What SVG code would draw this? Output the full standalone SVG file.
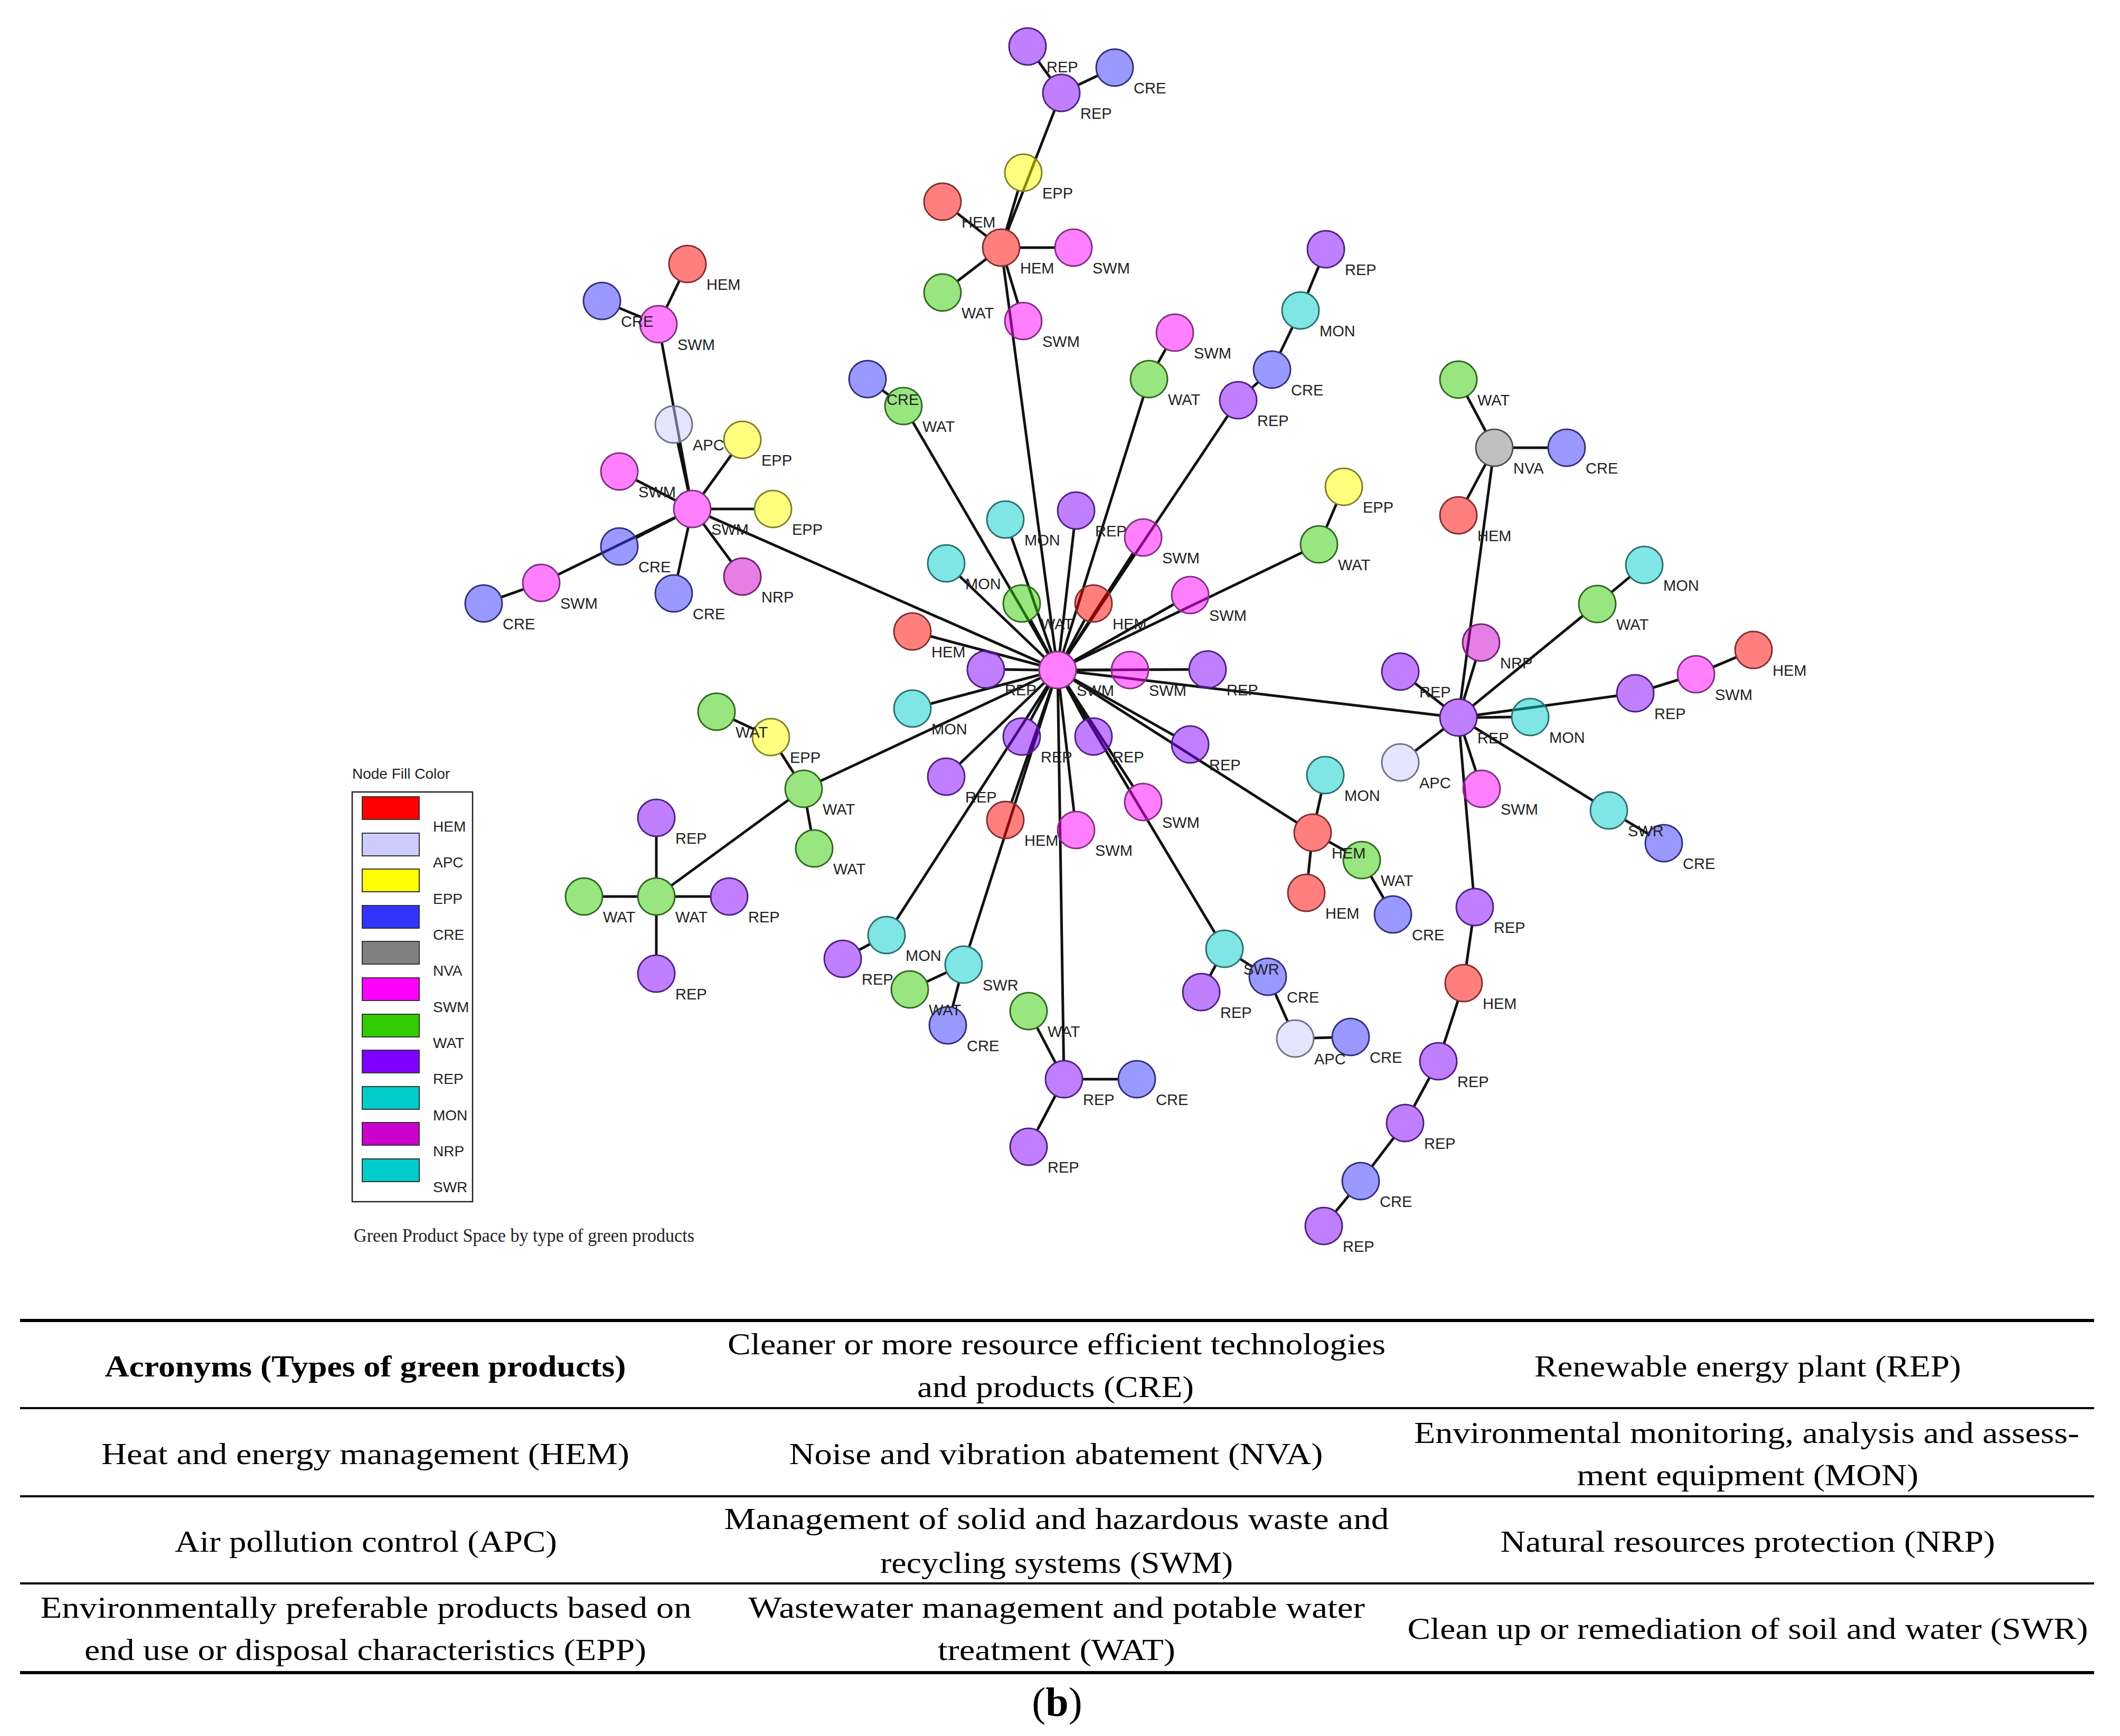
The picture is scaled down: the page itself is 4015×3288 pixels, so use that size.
<svg xmlns="http://www.w3.org/2000/svg" width="4015" height="3288" viewBox="0 0 4015 3288">
<style>
.node circle{stroke-width:3;fill-opacity:0.5}
.node text{font-family:"Liberation Sans",Arial,sans-serif;font-size:29px;fill:#222}
.HEM{fill:#ff0000;stroke:#803030}
.APC{fill:#ccccff;stroke:#707088}
.EPP{fill:#ffff00;stroke:#80802a}
.CRE{fill:#3333ff;stroke:#30307a}
.NVA{fill:#808080;stroke:#505050}
.SWM{fill:#ff00ff;stroke:#803080}
.WAT{fill:#33cc00;stroke:#2f6a20}
.REP{fill:#8000ff;stroke:#502080}
.MON{fill:#00cccc;stroke:#2a7070}
.NRP{fill:#cc00cc;stroke:#702070}
.SWR{fill:#00cccc;stroke:#2a7070}
#edges line{stroke:#111;stroke-width:5}
.leg text{font-family:"Liberation Sans",Arial,sans-serif;font-size:28px;fill:#222}
.sw{stroke:#333;stroke-width:2}
.tbl text{font-family:"Liberation Serif","Times New Roman",serif;font-size:58px;fill:#000;text-anchor:middle}
.rule{fill:#000}
</style>
<rect width="4015" height="3288" fill="#fff"/>
<g id="edges">
<line x1="1966.6" y1="116.3" x2="1989.4" y2="147.7"/>
<line x1="2041.6" y1="161" x2="2079.4" y2="143"/>
<line x1="1997.3" y1="208.6" x2="1908.7" y2="436.4"/>
<line x1="1928.1" y1="360.6" x2="1905.9" y2="435.4"/>
<line x1="1868.4" y1="447.4" x2="1812.6" y2="403.6"/>
<line x1="1931" y1="469" x2="1998" y2="469"/>
<line x1="1868.2" y1="490.3" x2="1812.8" y2="532.7"/>
<line x1="1906.1" y1="502.5" x2="1927.9" y2="574.5"/>
<line x1="1900.6" y1="503.7" x2="1998.4" y2="1234.3"/>
<line x1="1262.2" y1="582.5" x2="1286.8" y2="531.5"/>
<line x1="1214.6" y1="600.7" x2="1172.4" y2="583.3"/>
<line x1="1253.3" y1="648.4" x2="1304.7" y2="929.6"/>
<line x1="1283.5" y1="838.2" x2="1303.5" y2="929.8"/>
<line x1="1331.6" y1="935.7" x2="1385.4" y2="861.3"/>
<line x1="1279.9" y1="948" x2="1204.1" y2="909"/>
<line x1="1346" y1="964" x2="1429" y2="964"/>
<line x1="1279.9" y1="980" x2="1204.1" y2="1019"/>
<line x1="1279.6" y1="979.4" x2="1056.4" y2="1088.6"/>
<line x1="992.1" y1="1115.8" x2="948.9" y2="1131.2"/>
<line x1="1303.5" y1="998.2" x2="1283.5" y2="1089.8"/>
<line x1="1331.9" y1="992.1" x2="1385.1" y2="1063.9"/>
<line x1="1343" y1="978.1" x2="1971" y2="1254.9"/>
<line x1="1671" y1="739" x2="1683" y2="748"/>
<line x1="1728.7" y1="799.2" x2="1985.3" y2="1238.8"/>
<line x1="2208" y1="660.6" x2="2193" y2="687.4"/>
<line x1="2165.5" y1="751.4" x2="2013.5" y2="1235.6"/>
<line x1="2497.6" y1="504.4" x2="2476.4" y2="555.6"/>
<line x1="2447.8" y1="619.5" x2="2424.2" y2="668.5"/>
<line x1="2383.1" y1="723.5" x2="2370.9" y2="734.5"/>
<line x1="2325.5" y1="787.1" x2="2022.5" y2="1239.9"/>
<line x1="1915.5" y1="1017.1" x2="1991.5" y2="1235.9"/>
<line x1="2034" y1="1001.8" x2="2007" y2="1234.2"/>
<line x1="2146" y1="1047.4" x2="2022" y2="1239.6"/>
<line x1="1817.3" y1="1091.2" x2="1977.7" y2="1244.8"/>
<line x1="1951.6" y1="1173.8" x2="1986.4" y2="1238.2"/>
<line x1="2054.4" y1="1173.8" x2="2019.6" y2="1238.2"/>
<line x1="2223.5" y1="1144.2" x2="2033.5" y2="1251.8"/>
<line x1="2531.1" y1="954.1" x2="2511.9" y2="998.9"/>
<line x1="2466.5" y1="1046.2" x2="2034.5" y2="1253.8"/>
<line x1="1761.8" y1="1205" x2="1969.2" y2="1260"/>
<line x1="1902" y1="1268" x2="1968" y2="1269"/>
<line x1="2105" y1="1269" x2="2038" y2="1269"/>
<line x1="2252" y1="1268" x2="2038" y2="1269"/>
<line x1="1761.8" y1="1333" x2="1969.2" y2="1278"/>
<line x1="1951.6" y1="1364.2" x2="1986.4" y2="1299.8"/>
<line x1="2054.4" y1="1364.2" x2="2019.6" y2="1299.8"/>
<line x1="2223.5" y1="1392.9" x2="2033.5" y2="1286.1"/>
<line x1="1817.3" y1="1446.8" x2="1977.7" y2="1293.2"/>
<line x1="1915.5" y1="1520" x2="1991.5" y2="1302"/>
<line x1="2034" y1="1537.2" x2="2007" y2="1303.8"/>
<line x1="2146" y1="1489.6" x2="2022" y2="1298.4"/>
<line x1="2037.8" y1="1273.1" x2="2727.2" y2="1354.9"/>
<line x1="2032.5" y1="1287.8" x2="2456.5" y2="1558.2"/>
<line x1="2021" y1="1299" x2="2301" y2="1767"/>
<line x1="1984" y1="1298.4" x2="1698" y2="1741.6"/>
<line x1="1992.4" y1="1302.3" x2="1835.6" y2="1793.7"/>
<line x1="2003.5" y1="1304" x2="2014.5" y2="2009"/>
<line x1="1971.3" y1="1283.8" x2="1553.7" y2="1479.2"/>
<line x1="2825.4" y1="882.7" x2="2766.6" y2="1324.3"/>
<line x1="2813.7" y1="817" x2="2778.3" y2="750"/>
<line x1="2865" y1="848" x2="2932" y2="848"/>
<line x1="2813.6" y1="878.9" x2="2778.4" y2="945.1"/>
<line x1="2794.9" y1="1250.5" x2="2772.1" y2="1325.5"/>
<line x1="2679.5" y1="1293.7" x2="2734.5" y2="1337.3"/>
<line x1="2997.9" y1="1166.2" x2="2789.1" y2="1336.8"/>
<line x1="3051.9" y1="1121.6" x2="3087.1" y2="1092.4"/>
<line x1="2797" y1="1359" x2="2863" y2="1358"/>
<line x1="2796.7" y1="1354.2" x2="3062.3" y2="1317.8"/>
<line x1="3130.4" y1="1302.5" x2="3178.6" y2="1287.5"/>
<line x1="3244.2" y1="1263.4" x2="3288.8" y2="1244.6"/>
<line x1="2734.3" y1="1380.4" x2="2679.7" y2="1422.6"/>
<line x1="2772.8" y1="1392.3" x2="2795.2" y2="1460.7"/>
<line x1="2791.8" y1="1377.4" x2="3017.2" y2="1516.6"/>
<line x1="3077.1" y1="1552.9" x2="3120.9" y2="1579.1"/>
<line x1="2765" y1="1393.9" x2="2790" y2="1683.1"/>
<line x1="2787.9" y1="1752.6" x2="2777.1" y2="1827.4"/>
<line x1="2761.2" y1="1895.3" x2="2734.8" y2="1976.7"/>
<line x1="2707.4" y1="2040.8" x2="2677.6" y2="2096.2"/>
<line x1="2639.8" y1="2154.8" x2="2598.2" y2="2209.2"/>
<line x1="2554.7" y1="2264" x2="2529.3" y2="2295"/>
<line x1="2493.5" y1="1542.8" x2="2502.5" y2="1502.2"/>
<line x1="2482.3" y1="1611.8" x2="2477.7" y2="1656.2"/>
<line x1="2516.5" y1="1594.1" x2="2548.5" y2="1611.9"/>
<line x1="2596.4" y1="1659.4" x2="2620.6" y2="1701.6"/>
<line x1="2302.5" y1="1827.8" x2="2291.5" y2="1848.2"/>
<line x1="2348.4" y1="1816" x2="2371.6" y2="1831"/>
<line x1="2415.2" y1="1882" x2="2438.8" y2="1935"/>
<line x1="2488" y1="1966" x2="2523" y2="1965"/>
<line x1="1388.7" y1="1362.8" x2="1428.3" y2="1381.2"/>
<line x1="1478.7" y1="1425.6" x2="1503.3" y2="1464.4"/>
<line x1="1528.1" y1="1528.5" x2="1535.9" y2="1572.5"/>
<line x1="1493.7" y1="1514.7" x2="1271.3" y2="1677.3"/>
<line x1="1243" y1="1663" x2="1243" y2="1584"/>
<line x1="1208" y1="1698" x2="1141" y2="1698"/>
<line x1="1278" y1="1698" x2="1346" y2="1698"/>
<line x1="1243" y1="1733" x2="1243" y2="1809"/>
<line x1="1648.2" y1="1787.7" x2="1626.8" y2="1799.3"/>
<line x1="1793.2" y1="1841.6" x2="1754.8" y2="1859.4"/>
<line x1="1816.2" y1="1860.9" x2="1803.8" y2="1908.1"/>
<line x1="1964.1" y1="1946.1" x2="1998.9" y2="2012.9"/>
<line x1="2050" y1="2044" x2="2118" y2="2044"/>
<line x1="1998.8" y1="2075" x2="1964.2" y2="2141"/>
</g>
<g id="nodes">
<g id="n1" class="node"><circle class="REP" cx="1946" cy="88" r="35"/><text x="1982" y="137">REP</text></g>
<g id="n3" class="node"><circle class="CRE" cx="2111" cy="128" r="35"/><text x="2147" y="177">CRE</text></g>
<g id="n2" class="node"><circle class="REP" cx="2010" cy="176" r="35"/><text x="2046" y="225">REP</text></g>
<g id="n4" class="node"><circle class="EPP" cx="1938" cy="327" r="35"/><text x="1974" y="376">EPP</text></g>
<g id="n6" class="node"><circle class="HEM" cx="1896" cy="469" r="35"/><text x="1932" y="518">HEM</text></g>
<g id="n5" class="node"><circle class="HEM" cx="1785" cy="382" r="35"/><text x="1821" y="431">HEM</text></g>
<g id="n7" class="node"><circle class="SWM" cx="2033" cy="469" r="35"/><text x="2069" y="518">SWM</text></g>
<g id="n8" class="node"><circle class="WAT" cx="1785" cy="554" r="35"/><text x="1821" y="603">WAT</text></g>
<g id="n9" class="node"><circle class="SWM" cx="1938" cy="608" r="35"/><text x="1974" y="657">SWM</text></g>
<g id="n10" class="node"><circle class="HEM" cx="1302" cy="500" r="35"/><text x="1338" y="549">HEM</text></g>
<g id="n12" class="node"><circle class="SWM" cx="1247" cy="614" r="35"/><text x="1283" y="663">SWM</text></g>
<g id="n11" class="node"><circle class="CRE" cx="1140" cy="570" r="35"/><text x="1176" y="619">CRE</text></g>
<g id="n14" class="node"><circle class="EPP" cx="1406" cy="833" r="35"/><text x="1442" y="882">EPP</text></g>
<g id="n13" class="node"><circle class="APC" cx="1276" cy="804" r="35"/><text x="1312" y="853">APC</text></g>
<g id="n16" class="node"><circle class="SWM" cx="1311" cy="964" r="35"/><text x="1347" y="1013">SWM</text></g>
<g id="n15" class="node"><circle class="SWM" cx="1173" cy="893" r="35"/><text x="1209" y="942">SWM</text></g>
<g id="n17" class="node"><circle class="EPP" cx="1464" cy="964" r="35"/><text x="1500" y="1013">EPP</text></g>
<g id="n18" class="node"><circle class="CRE" cx="1173" cy="1035" r="35"/><text x="1209" y="1084">CRE</text></g>
<g id="n19" class="node"><circle class="SWM" cx="1025" cy="1104" r="35"/><text x="1061" y="1153">SWM</text></g>
<g id="n20" class="node"><circle class="CRE" cx="916" cy="1143" r="35"/><text x="952" y="1192">CRE</text></g>
<g id="n21" class="node"><circle class="CRE" cx="1276" cy="1124" r="35"/><text x="1312" y="1173">CRE</text></g>
<g id="n22" class="node"><circle class="NRP" cx="1406" cy="1092" r="35"/><text x="1442" y="1141">NRP</text></g>
<g id="n24" class="node"><circle class="WAT" cx="1711" cy="769" r="35"/><text x="1747" y="818">WAT</text></g>
<g id="n23" class="node"><circle class="CRE" cx="1643" cy="718" r="35"/><text x="1679" y="767">CRE</text></g>
<g id="n25" class="node"><circle class="SWM" cx="2225" cy="630" r="35"/><text x="2261" y="679">SWM</text></g>
<g id="n26" class="node"><circle class="WAT" cx="2176" cy="718" r="35"/><text x="2212" y="767">WAT</text></g>
<g id="n27" class="node"><circle class="REP" cx="2511" cy="472" r="35"/><text x="2547" y="521">REP</text></g>
<g id="n28" class="node"><circle class="MON" cx="2463" cy="588" r="35"/><text x="2499" y="637">MON</text></g>
<g id="n29" class="node"><circle class="CRE" cx="2409" cy="700" r="35"/><text x="2445" y="749">CRE</text></g>
<g id="n30" class="node"><circle class="REP" cx="2345" cy="758" r="35"/><text x="2381" y="807">REP</text></g>
<g id="n31" class="node"><circle class="MON" cx="1904" cy="984" r="35"/><text x="1940" y="1033">MON</text></g>
<g id="n33" class="node"><circle class="SWM" cx="2165" cy="1018" r="35"/><text x="2201" y="1067">SWM</text></g>
<g id="n32" class="node"><circle class="REP" cx="2038" cy="967" r="35"/><text x="2074" y="1016">REP</text></g>
<g id="n35" class="node"><circle class="WAT" cx="1935" cy="1143" r="35"/><text x="1971" y="1192">WAT</text></g>
<g id="n34" class="node"><circle class="MON" cx="1792" cy="1067" r="35"/><text x="1828" y="1116">MON</text></g>
<g id="n36" class="node"><circle class="HEM" cx="2071" cy="1143" r="35"/><text x="2107" y="1192">HEM</text></g>
<g id="n37" class="node"><circle class="SWM" cx="2254" cy="1127" r="35"/><text x="2290" y="1176">SWM</text></g>
<g id="n38" class="node"><circle class="EPP" cx="2545" cy="922" r="35"/><text x="2581" y="971">EPP</text></g>
<g id="n39" class="node"><circle class="WAT" cx="2498" cy="1031" r="35"/><text x="2534" y="1080">WAT</text></g>
<g id="n41" class="node"><circle class="REP" cx="1867" cy="1268" r="35"/><text x="1903" y="1317">REP</text></g>
<g id="n40" class="node"><circle class="HEM" cx="1728" cy="1196" r="35"/><text x="1764" y="1245">HEM</text></g>
<g id="n42" class="node"><circle class="SWM" cx="2003" cy="1269" r="35"/><text x="2039" y="1318">SWM</text></g>
<g id="n43" class="node"><circle class="SWM" cx="2140" cy="1269" r="35"/><text x="2176" y="1318">SWM</text></g>
<g id="n44" class="node"><circle class="REP" cx="2287" cy="1268" r="35"/><text x="2323" y="1317">REP</text></g>
<g id="n45" class="node"><circle class="MON" cx="1728" cy="1342" r="35"/><text x="1764" y="1391">MON</text></g>
<g id="n46" class="node"><circle class="REP" cx="1935" cy="1395" r="35"/><text x="1971" y="1444">REP</text></g>
<g id="n47" class="node"><circle class="REP" cx="2071" cy="1395" r="35"/><text x="2107" y="1444">REP</text></g>
<g id="n48" class="node"><circle class="REP" cx="2254" cy="1410" r="35"/><text x="2290" y="1459">REP</text></g>
<g id="n49" class="node"><circle class="REP" cx="1792" cy="1471" r="35"/><text x="1828" y="1520">REP</text></g>
<g id="n50" class="node"><circle class="HEM" cx="1904" cy="1553" r="35"/><text x="1940" y="1602">HEM</text></g>
<g id="n51" class="node"><circle class="SWM" cx="2038" cy="1572" r="35"/><text x="2074" y="1621">SWM</text></g>
<g id="n52" class="node"><circle class="SWM" cx="2165" cy="1519" r="35"/><text x="2201" y="1568">SWM</text></g>
<g id="n53" class="node"><circle class="WAT" cx="2762" cy="719" r="35"/><text x="2798" y="768">WAT</text></g>
<g id="n54" class="node"><circle class="NVA" cx="2830" cy="848" r="35"/><text x="2866" y="897">NVA</text></g>
<g id="n55" class="node"><circle class="CRE" cx="2967" cy="848" r="35"/><text x="3003" y="897">CRE</text></g>
<g id="n56" class="node"><circle class="HEM" cx="2762" cy="976" r="35"/><text x="2798" y="1025">HEM</text></g>
<g id="n57" class="node"><circle class="MON" cx="3114" cy="1070" r="35"/><text x="3150" y="1119">MON</text></g>
<g id="n58" class="node"><circle class="WAT" cx="3025" cy="1144" r="35"/><text x="3061" y="1193">WAT</text></g>
<g id="n59" class="node"><circle class="NRP" cx="2805" cy="1217" r="35"/><text x="2841" y="1266">NRP</text></g>
<g id="n61" class="node"><circle class="REP" cx="2762" cy="1359" r="35"/><text x="2798" y="1408">REP</text></g>
<g id="n60" class="node"><circle class="REP" cx="2652" cy="1272" r="35"/><text x="2688" y="1321">REP</text></g>
<g id="n62" class="node"><circle class="MON" cx="2898" cy="1358" r="35"/><text x="2934" y="1407">MON</text></g>
<g id="n63" class="node"><circle class="REP" cx="3097" cy="1313" r="35"/><text x="3133" y="1362">REP</text></g>
<g id="n64" class="node"><circle class="SWM" cx="3212" cy="1277" r="35"/><text x="3248" y="1326">SWM</text></g>
<g id="n65" class="node"><circle class="HEM" cx="3321" cy="1231" r="35"/><text x="3357" y="1280">HEM</text></g>
<g id="n66" class="node"><circle class="APC" cx="2652" cy="1444" r="35"/><text x="2688" y="1493">APC</text></g>
<g id="n67" class="node"><circle class="SWM" cx="2806" cy="1494" r="35"/><text x="2842" y="1543">SWM</text></g>
<g id="n69" class="node"><circle class="CRE" cx="3151" cy="1597" r="35"/><text x="3187" y="1646">CRE</text></g>
<g id="n68" class="node"><circle class="SWR" cx="3047" cy="1535" r="35"/><text x="3083" y="1584">SWR</text></g>
<g id="n70" class="node"><circle class="REP" cx="2793" cy="1718" r="35"/><text x="2829" y="1767">REP</text></g>
<g id="n71" class="node"><circle class="HEM" cx="2772" cy="1862" r="35"/><text x="2808" y="1911">HEM</text></g>
<g id="n72" class="node"><circle class="REP" cx="2724" cy="2010" r="35"/><text x="2760" y="2059">REP</text></g>
<g id="n73" class="node"><circle class="REP" cx="2661" cy="2127" r="35"/><text x="2697" y="2176">REP</text></g>
<g id="n74" class="node"><circle class="CRE" cx="2577" cy="2237" r="35"/><text x="2613" y="2286">CRE</text></g>
<g id="n75" class="node"><circle class="REP" cx="2507" cy="2322" r="35"/><text x="2543" y="2371">REP</text></g>
<g id="n76" class="node"><circle class="MON" cx="2510" cy="1468" r="35"/><text x="2546" y="1517">MON</text></g>
<g id="n78" class="node"><circle class="WAT" cx="2579" cy="1629" r="35"/><text x="2615" y="1678">WAT</text></g>
<g id="n77" class="node"><circle class="HEM" cx="2486" cy="1577" r="35"/><text x="2522" y="1626">HEM</text></g>
<g id="n79" class="node"><circle class="HEM" cx="2474" cy="1691" r="35"/><text x="2510" y="1740">HEM</text></g>
<g id="n80" class="node"><circle class="CRE" cx="2638" cy="1732" r="35"/><text x="2674" y="1781">CRE</text></g>
<g id="n83" class="node"><circle class="CRE" cx="2401" cy="1850" r="35"/><text x="2437" y="1899">CRE</text></g>
<g id="n81" class="node"><circle class="SWR" cx="2319" cy="1797" r="35"/><text x="2355" y="1846">SWR</text></g>
<g id="n82" class="node"><circle class="REP" cx="2275" cy="1879" r="35"/><text x="2311" y="1928">REP</text></g>
<g id="n85" class="node"><circle class="CRE" cx="2558" cy="1964" r="35"/><text x="2594" y="2013">CRE</text></g>
<g id="n84" class="node"><circle class="APC" cx="2453" cy="1967" r="35"/><text x="2489" y="2016">APC</text></g>
<g id="n87" class="node"><circle class="EPP" cx="1460" cy="1396" r="35"/><text x="1496" y="1445">EPP</text></g>
<g id="n86" class="node"><circle class="WAT" cx="1357" cy="1348" r="35"/><text x="1393" y="1397">WAT</text></g>
<g id="n88" class="node"><circle class="WAT" cx="1522" cy="1494" r="35"/><text x="1558" y="1543">WAT</text></g>
<g id="n89" class="node"><circle class="WAT" cx="1542" cy="1607" r="35"/><text x="1578" y="1656">WAT</text></g>
<g id="n90" class="node"><circle class="REP" cx="1243" cy="1549" r="35"/><text x="1279" y="1598">REP</text></g>
<g id="n91" class="node"><circle class="WAT" cx="1243" cy="1698" r="35"/><text x="1279" y="1747">WAT</text></g>
<g id="n92" class="node"><circle class="WAT" cx="1106" cy="1698" r="35"/><text x="1142" y="1747">WAT</text></g>
<g id="n93" class="node"><circle class="REP" cx="1381" cy="1698" r="35"/><text x="1417" y="1747">REP</text></g>
<g id="n94" class="node"><circle class="REP" cx="1243" cy="1844" r="35"/><text x="1279" y="1893">REP</text></g>
<g id="n95" class="node"><circle class="MON" cx="1679" cy="1771" r="35"/><text x="1715" y="1820">MON</text></g>
<g id="n96" class="node"><circle class="REP" cx="1596" cy="1816" r="35"/><text x="1632" y="1865">REP</text></g>
<g id="n99" class="node"><circle class="CRE" cx="1795" cy="1942" r="35"/><text x="1831" y="1991">CRE</text></g>
<g id="n98" class="node"><circle class="WAT" cx="1723" cy="1874" r="35"/><text x="1759" y="1923">WAT</text></g>
<g id="n97" class="node"><circle class="SWR" cx="1825" cy="1827" r="35"/><text x="1861" y="1876">SWR</text></g>
<g id="n100" class="node"><circle class="WAT" cx="1948" cy="1915" r="35"/><text x="1984" y="1964">WAT</text></g>
<g id="n101" class="node"><circle class="REP" cx="2015" cy="2044" r="35"/><text x="2051" y="2093">REP</text></g>
<g id="n102" class="node"><circle class="CRE" cx="2153" cy="2044" r="35"/><text x="2189" y="2093">CRE</text></g>
<g id="n103" class="node"><circle class="REP" cx="1948" cy="2172" r="35"/><text x="1984" y="2221">REP</text></g>
</g>
<g id="legend" class="leg">
<text x="667" y="1475">Node Fill Color</text>
<rect x="667" y="1500" width="228" height="776" fill="none" stroke="#222" stroke-width="2.5"/>
<rect class="sw" x="686" y="1509" width="108" height="43" fill="#ff0000"/><text x="820" y="1575">HEM</text>
<rect class="sw" x="686" y="1578" width="108" height="43" fill="#ccccff"/><text x="820" y="1643">APC</text>
<rect class="sw" x="686" y="1646" width="108" height="43" fill="#ffff00"/><text x="820" y="1712">EPP</text>
<rect class="sw" x="686" y="1715" width="108" height="43" fill="#3333ff"/><text x="820" y="1780">CRE</text>
<rect class="sw" x="686" y="1783" width="108" height="43" fill="#808080"/><text x="820" y="1848">NVA</text>
<rect class="sw" x="686" y="1852" width="108" height="43" fill="#ff00ff"/><text x="820" y="1917">SWM</text>
<rect class="sw" x="686" y="1921" width="108" height="43" fill="#33cc00"/><text x="820" y="1985">WAT</text>
<rect class="sw" x="686" y="1989" width="108" height="43" fill="#8000ff"/><text x="820" y="2053">REP</text>
<rect class="sw" x="686" y="2058" width="108" height="43" fill="#00cccc"/><text x="820" y="2122">MON</text>
<rect class="sw" x="686" y="2126" width="108" height="43" fill="#cc00cc"/><text x="820" y="2190">NRP</text>
<rect class="sw" x="686" y="2195" width="108" height="43" fill="#00cccc"/><text x="820" y="2258">SWR</text>
<text x="670" y="2352" style="font-family:'Liberation Serif','Times New Roman',serif;font-size:36px;fill:#222" textLength="645" lengthAdjust="spacingAndGlyphs">Green Product Space by type of green products</text>
</g>
<g id="table" class="tbl">
<rect class="rule" x="38" y="2498" width="3928" height="6"/>
<rect class="rule" x="38" y="2665" width="3928" height="4"/>
<rect class="rule" x="38" y="2832" width="3928" height="4"/>
<rect class="rule" x="38" y="2997" width="3928" height="4"/>
<rect class="rule" x="38" y="3165" width="3928" height="6"/>
<text x="692" y="2607" font-weight="bold" textLength="987" lengthAdjust="spacingAndGlyphs">Acronyms (Types of green products)</text>
<text x="2001" y="2565" textLength="1246" lengthAdjust="spacingAndGlyphs">Cleaner or more resource efficient technologies</text>
<text x="1999" y="2646" textLength="524" lengthAdjust="spacingAndGlyphs">and products (CRE)</text>
<text x="3310" y="2607" textLength="808" lengthAdjust="spacingAndGlyphs">Renewable energy plant (REP)</text>
<text x="692" y="2773" textLength="1000" lengthAdjust="spacingAndGlyphs">Heat and energy management (HEM)</text>
<text x="2000" y="2773" textLength="1011" lengthAdjust="spacingAndGlyphs">Noise and vibration abatement (NVA)</text>
<text x="3308" y="2733" textLength="1260" lengthAdjust="spacingAndGlyphs">Environmental monitoring, analysis and assess-</text>
<text x="3310" y="2813" textLength="647" lengthAdjust="spacingAndGlyphs">ment equipment (MON)</text>
<text x="693" y="2939" textLength="724" lengthAdjust="spacingAndGlyphs">Air pollution control (APC)</text>
<text x="2001" y="2896" textLength="1259" lengthAdjust="spacingAndGlyphs">Management of solid and hazardous waste and</text>
<text x="2001" y="2979" textLength="668" lengthAdjust="spacingAndGlyphs">recycling systems (SWM)</text>
<text x="3310" y="2939" textLength="937" lengthAdjust="spacingAndGlyphs">Natural resources protection (NRP)</text>
<text x="693" y="3064" textLength="1233" lengthAdjust="spacingAndGlyphs">Environmentally preferable products based on</text>
<text x="692" y="3144" textLength="1064" lengthAdjust="spacingAndGlyphs">end use or disposal characteristics (EPP)</text>
<text x="2001" y="3064" textLength="1168" lengthAdjust="spacingAndGlyphs">Wastewater management and potable water</text>
<text x="2001" y="3144" textLength="450" lengthAdjust="spacingAndGlyphs">treatment (WAT)</text>
<text x="3310" y="3104" textLength="1289" lengthAdjust="spacingAndGlyphs">Clean up or remediation of soil and water (SWR)</text>
<text x="2002" y="3250" style="font-size:78px">(<tspan font-weight="bold">b</tspan>)</text>
</g>
</svg>
